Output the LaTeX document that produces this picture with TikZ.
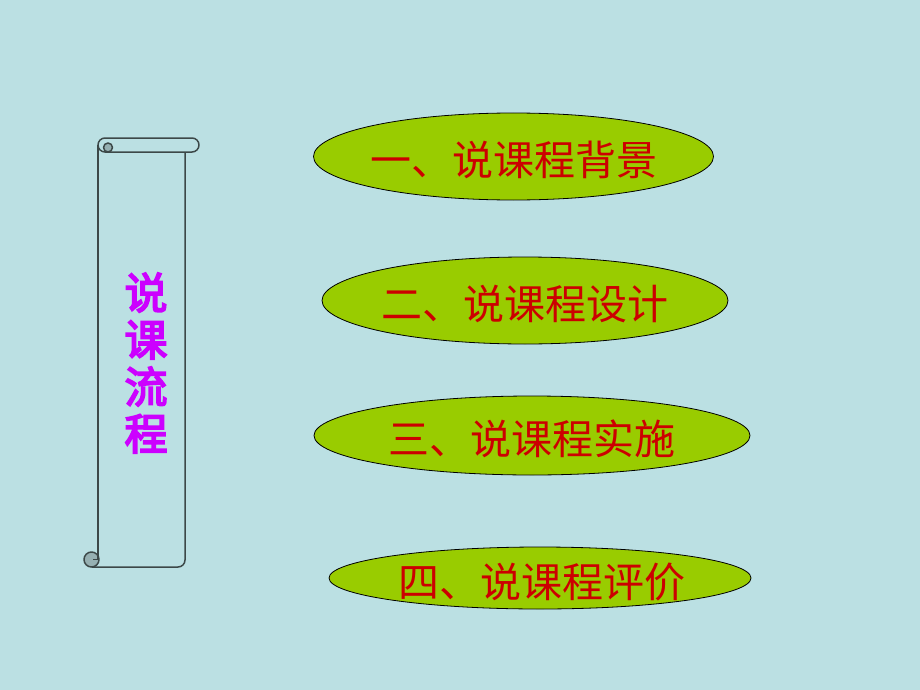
\documentclass[tikz,border=0pt]{standalone}
\usepackage{fontspec}
\newfontfamily\cjk{Noto Sans CJK SC}
\newfontfamily\cjkb{Noto Sans CJK SC}[FakeBold=4]
\definecolor{bgc}{RGB}{187,224,227}
\definecolor{ellfill}{RGB}{153,204,0}
\definecolor{txtred}{RGB}{204,0,0}
\definecolor{mag}{RGB}{204,0,255}
\definecolor{scrollline}{RGB}{60,72,72}
\definecolor{curlfill}{RGB}{150,176,178}
\usetikzlibrary{shapes.geometric}
\tikzset{
  item/.style={ellipse, draw=black, line width=0.8pt, fill=ellfill, inner sep=0pt},
  itemtext/.style={text=txtred, inner sep=0pt, font=\cjk\fontsize{41}{46}\selectfont},
  scrollln/.style={draw=scrollline, line width=1.5pt, line join=round},
}
\begin{document}
\begin{tikzpicture}[x=1pt,y=-1pt]
\fill[bgc] (0,0) rectangle (920,690);
\useasboundingbox (0,0) rectangle (920,690);
% scroll body
\draw[scrollln] (98,145) -- (98,553);
\draw[scrollln] (91.5,567) -- (178,567) arc[start angle=90,end angle=0,radius=7] -- (185,152);
% top roll
\draw[scrollln, fill=bgc] (105,138) -- (192,138) arc[start angle=-90,end angle=90,radius=7]
  -- (105,152) arc[start angle=90,end angle=270,radius=7] -- cycle;
\draw[scrollln, fill=curlfill] (108,147.5) circle (4.5);
% bottom curl
\draw[scrollln, fill=curlfill] (91.5,559.5) circle (7.5);
\draw[scrollln] (98,553) -- (98,559.5) -- (93,559.5);
% scroll title
\node[text=mag, font=\cjkb\fontsize{43}{47}\selectfont, align=center, inner sep=0pt] (title) at (146,363) {说\\课\\流\\程};
% ellipses
\node[item, minimum width=400pt, minimum height=87pt] (e1) at (513.5,156.5) {};
\node[item, minimum width=406pt, minimum height=87pt] (e2) at (525,300.5) {};
\node[item, minimum width=436pt, minimum height=79pt] (e3) at (532,435.5) {};
\node[item, minimum width=422pt, minimum height=62pt] (e4) at (540,578) {};
\node[itemtext] (t1) at (513.5,160) {一、说课程背景};
\node[itemtext] (t2) at (525,304) {二、说课程设计};
\node[itemtext] (t3) at (531.5,439) {三、说课程实施};
\node[itemtext] (t4) at (541.5,582) {四、说课程评价};
\end{tikzpicture}
\end{document}
